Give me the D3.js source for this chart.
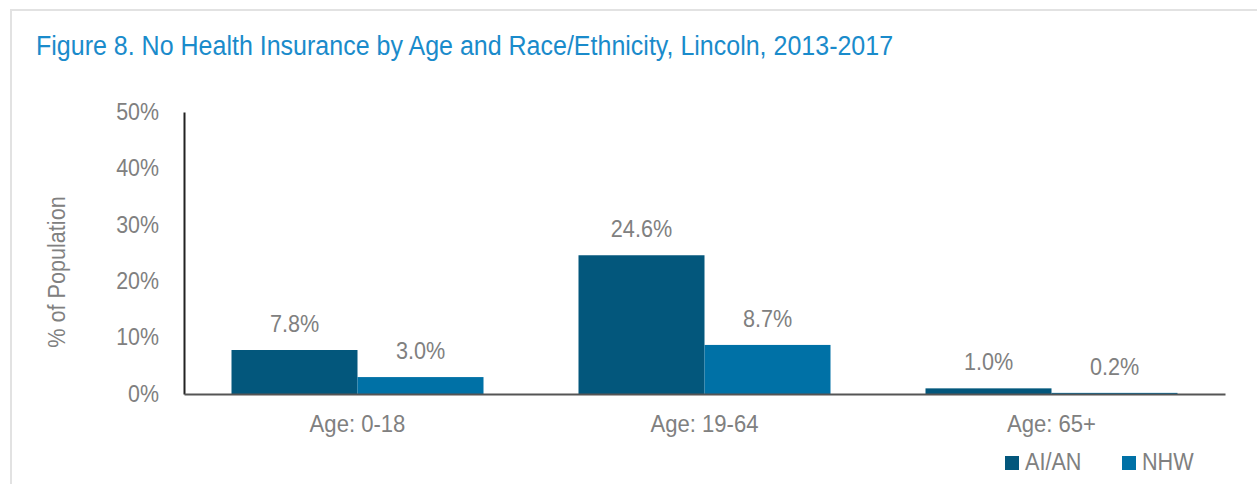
<!DOCTYPE html>
<html>
<head>
<meta charset="utf-8">
<script src="https://cdn.jsdelivr.net/npm/d3@7"></script>
<style>
  body { margin: 0; background: #fff; }
  svg text { font-family: "Liberation Sans Narrow", "Arial Narrow", "Liberation Sans", sans-serif; }
</style>
</head>
<body>
<div id="chart"></div>
<script>
const categories = ["Age: 0-18", "Age: 19-64", "Age: 65+"];
const seriesNames = ["AI/AN", "NHW"];
const aianValues = [7.8, 24.6, 1.0];
const nhwValues = [3.0, 8.7, 0.2];
const yTicks = [0, 10, 20, 30, 40, 50];
const colors = ["#03577c", "#0071a6"];

const width = 1257;
const height = 484;
const margin = { top: 112, right: 32, bottom: 90, left: 184 };
const innerW = width - margin.left - margin.right;
const innerH = height - margin.top - margin.bottom;

// squeeze text horizontally, the original uses a narrow face
function condense(sel, k) {
  sel.each(function () {
    const w = this.getComputedTextLength();
    this.setAttribute("textLength", w * k);
    this.setAttribute("lengthAdjust", "spacingAndGlyphs");
  });
}

const svg = d3.select("#chart")
  .append("svg")
  .attr("width", width)
  .attr("height", height);

// frame
svg.append("path")
  .attr("d", "M11,484 V10 H1257")
  .attr("fill", "none")
  .attr("stroke", "#e2e2e2")
  .attr("stroke-width", 2);

const title = svg.append("text")
  .attr("x", 36)
  .attr("y", 55)
  .attr("fill", "#1a8bcb")
  .style("font-size", "27px")
  .text("Figure 8. No Health Insurance by Age and Race/Ethnicity, Lincoln, 2013-2017");
condense(title, 0.926);

const g = svg.append("g")
  .attr("transform", "translate(" + margin.left + "," + margin.top + ")");

const x = d3.scaleBand().domain(categories).range([0, innerW]).paddingInner(0).paddingOuter(0);
const x1 = d3.scaleBand().domain(seriesNames).range([47.5, x.bandwidth() - 47.5]);
const y = d3.scaleLinear().domain([0, 50]).range([innerH, 0]);

const rows = categories.map(function (c, i) {
  return { cat: c, vals: [aianValues[i], nhwValues[i]] };
});

const groups = g.selectAll(".grp")
  .data(rows)
  .enter()
  .append("g")
  .attr("transform", function (d) { return "translate(" + x(d.cat) + ",0)"; });

groups.selectAll("rect")
  .data(function (d) { return d.vals.map(function (v, j) { return { s: seriesNames[j], v: v, j: j }; }); })
  .enter()
  .append("rect")
  .attr("x", function (d) { return x1(d.s); })
  .attr("width", x1.bandwidth())
  .attr("y", function (d) { return y(d.v); })
  .attr("height", function (d) { return innerH - y(d.v); })
  .attr("fill", function (d) { return colors[d.j]; });

const labels = groups.selectAll(".lbl")
  .data(function (d) { return d.vals.map(function (v, j) { return { s: seriesNames[j], v: v }; }); })
  .enter()
  .append("text")
  .attr("class", "lbl")
  .attr("x", function (d) { return x1(d.s) + x1.bandwidth() / 2; })
  .attr("y", function (d) { return y(d.v) - 18; })
  .attr("text-anchor", "middle")
  .attr("fill", "#808080")
  .style("font-size", "24px")
  .text(function (d) { return d.v.toFixed(1) + "%"; });
condense(labels, 0.9);

// y axis
const yAxis = g.append("g")
  .call(d3.axisLeft(y).tickValues(yTicks).tickSize(0).tickPadding(25).tickFormat(function (d) { return d + "%"; }));
yAxis.select(".domain").attr("stroke", "#222").attr("stroke-width", 2);
yAxis.selectAll("text").attr("fill", "#808080").style("font-size", "23px");
condense(yAxis.selectAll("text"), 0.93);

// x axis
const xAxis = g.append("g")
  .attr("transform", "translate(0," + innerH + ")")
  .call(d3.axisBottom(x).tickSize(0).tickPadding(22));
xAxis.select(".domain").attr("stroke", "#555").attr("stroke-width", 2);
xAxis.selectAll("text").attr("fill", "#808080").style("font-size", "23px");
condense(xAxis.selectAll("text"), 0.96);

const yTitle = svg.append("text")
  .attr("transform", "translate(65,272) rotate(-90)")
  .attr("text-anchor", "middle")
  .attr("fill", "#808080")
  .style("font-size", "23px")
  .text("% of Population");
condense(yTitle, 0.94);

// legend
const legendX = [1005, 1122];
const legend = svg.selectAll(".leg")
  .data(seriesNames)
  .enter()
  .append("g")
  .attr("transform", function (d, i) { return "translate(" + legendX[i] + ",456)"; });
legend.append("rect")
  .attr("width", 14)
  .attr("height", 14)
  .attr("fill", function (d, i) { return colors[i]; });
const legText = legend.append("text")
  .attr("x", 20)
  .attr("y", 14)
  .attr("fill", "#808080")
  .style("font-size", "23px")
  .text(function (d) { return d; });
condense(legText, 0.94);
</script>
</body>
</html>
